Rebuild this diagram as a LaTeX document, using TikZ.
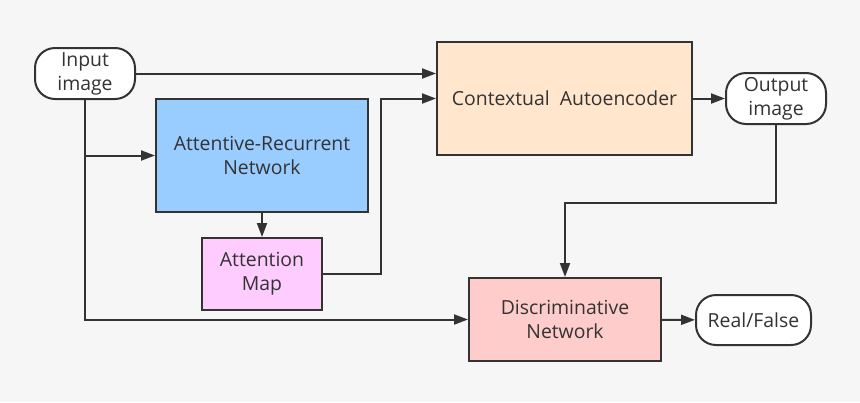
\documentclass[tikz,border=0pt]{standalone}
\usepackage{fontspec}
\setmainfont{Open Sans}
\usetikzlibrary{arrows.meta}
\definecolor{bgcol}{HTML}{F6F6F6}
\definecolor{linecol}{HTML}{333333}
\definecolor{arncol}{HTML}{99CCFF}
\definecolor{cacol}{HTML}{FFE6CC}
\definecolor{amcol}{HTML}{FFCCFF}
\definecolor{dncol}{HTML}{FFCCCC}
\begin{document}
\begin{tikzpicture}[x = 0.5pt, y = -0.5pt, line width = 1pt, draw = linecol,
                    font = \fontsize{9.7}{12}\selectfont, text = linecol,
                    block/.style    = {rectangle, draw, inner sep = 0pt, align = center},
                    terminal/.style = {rectangle, draw, fill = white, rounded corners = 10pt, inner sep = 0pt, align = center},
                    >={Triangle[length = 7pt, width = 5pt]}
                    ]
    \fill[bgcol] (0, 0) rectangle (860, 402);
    \useasboundingbox (0, 0) rectangle (860, 402);

    \node[terminal, minimum width = 50pt, minimum height = 25.5pt] (in) at (85, 73.5) {Input\\image};
    \node[block, fill = arncol, minimum width = 106pt, minimum height = 56.5pt] (arn) at (262, 155.5) {Attentive-Recurrent\\Network};
    \node[block, fill = amcol, minimum width = 60pt, minimum height = 36pt] (am) at (262, 274) {Attention\\Map};
    \node[block, fill = cacol, minimum width = 127.5pt, minimum height = 56.5pt] (ca) at (564.5, 98.5) {Contextual\ \ Autoencoder};
    \node[terminal, minimum width = 50pt, minimum height = 25.5pt] (out) at (776, 98.5) {Output\\image};
    \node[block, fill = dncol, minimum width = 96pt, minimum height = 41.5pt] (dn) at (565, 319.5) {Discriminative\\Network};
    \node[terminal, minimum width = 57.5pt, minimum height = 25pt] (rf) at (753.5, 320) {Real/False};

    \draw[->] (in) -- (in -| ca.west);
    \draw[->] (in.south) |- (dn.west);
    \draw[->] (in.south |- arn.west) -- (arn.west);
    \draw[->] (arn) -- (am);
    \draw[->] (am.east) -- ++(58, 0) |- (ca.west);
    \draw[->] (ca) -- (out);
    \draw[->] (out.south) -- ++(0, 78) -| (dn.north);
    \draw[->] (dn) -- (rf);
\end{tikzpicture}
\end{document}
